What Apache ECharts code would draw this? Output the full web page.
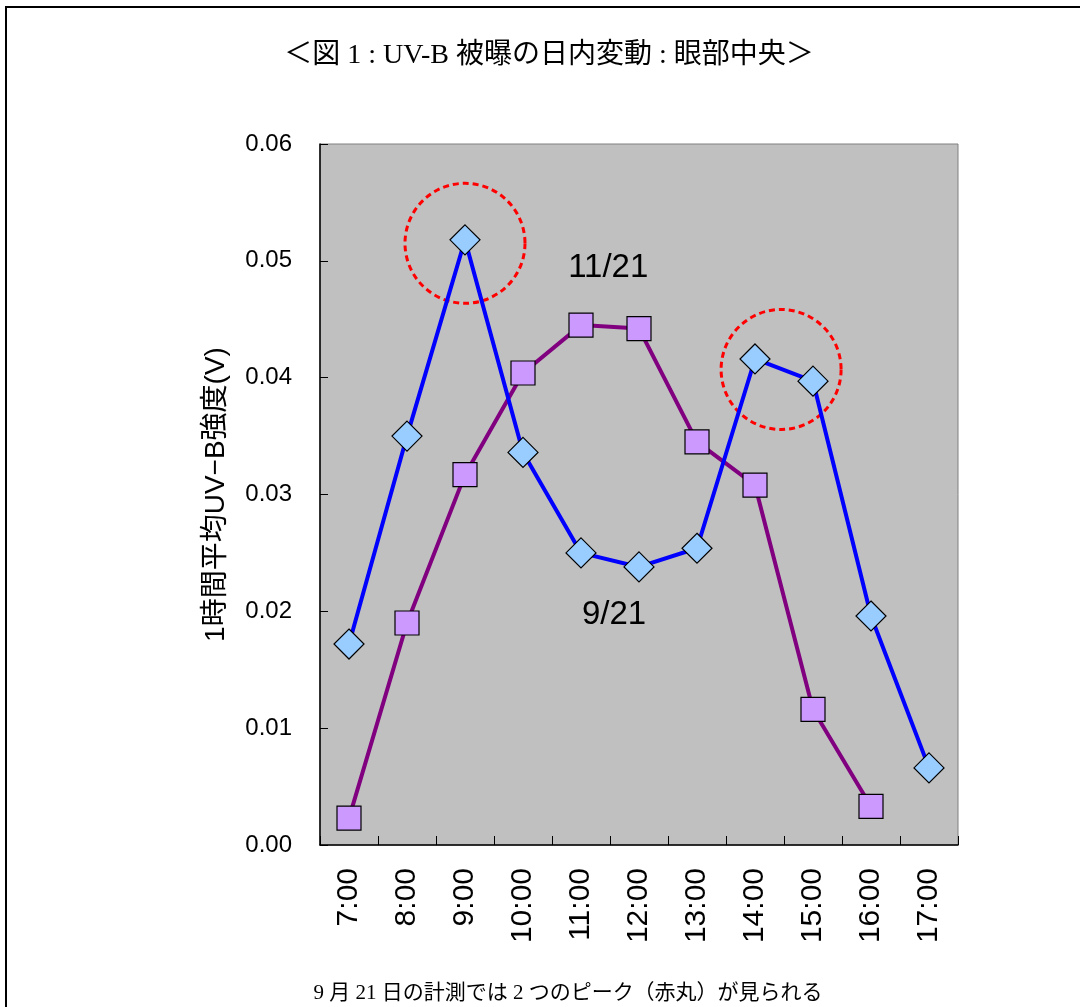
<!DOCTYPE html>
<html>
<head>
<meta charset="utf-8">
<script src="https://cdn.jsdelivr.net/npm/echarts@6/dist/echarts.min.js"></script>
<style>
  html, body { margin: 0; padding: 0; background: #fff; }
  #main { width: 1080px; height: 1007px; }
</style>
</head>
<body>
<div id="main"></div>
<script>
var hours = ['7:00', '8:00', '9:00', '10:00', '11:00', '12:00', '13:00', '14:00', '15:00', '16:00', '17:00'];
// 9/21 (blue diamonds)
var sep21 = [0.0172, 0.0350, 0.0518, 0.0336, 0.0250, 0.0238, 0.0254, 0.0416, 0.0397, 0.0196, 0.0066];
// 11/21 (purple squares)
var nov21 = [0.0023, 0.0190, 0.0317, 0.0404, 0.0445, 0.0442, 0.0345, 0.0308, 0.0116, 0.0033, null];

// red circles: [category index, offset toward next category, value]
var peakCircles = [[2, 0, 0.0515], [7, 0.45, 0.0407]];
// in-plot labels: [category index, offset, value, text]
var seriesTags = [[4, 0.47, 0.0494, '11/21'], [4, 0.57, 0.0197, '9/21']];

var dom = document.getElementById('main');
var myChart = echarts.init(dom, null, {renderer: 'canvas'});

var sansFont = "'Liberation Sans', 'Noto Sans CJK JP', sans-serif";
var serifFont = "'Liberation Serif', 'Noto Sans CJK JP', serif";

function pointAt(api, idx, frac, val) {
    var a = api.coord([idx, val]);
    var b = api.coord([idx + 1, val]);
    return [a[0] + (b[0] - a[0]) * frac, a[1]];
}

var option = {
    backgroundColor: '#fff',
    animation: false,
    graphic: [
        {
            type: 'rect',
            shape: {x: 6, y: 7, width: 1200, height: 1200},
            style: {fill: 'none', stroke: '#000', lineWidth: 2}
        },
        {
            type: 'text',
            x: 549, y: 56,
            style: {
                text: '＜図 1 : UV-B 被曝の日内変動 : 眼部中央＞',
                font: '28px ' + serifFont,
                fill: '#000',
                align: 'center',
                verticalAlign: 'middle'
            }
        },
        {
            type: 'text',
            x: 568, y: 993,
            style: {
                text: '9 月 21 日の計測では 2 つのピーク（赤丸）が見られる',
                font: '21px ' + serifFont,
                fill: '#000',
                align: 'center',
                verticalAlign: 'middle'
            }
        }
    ],
    grid: {
        left: 320,
        right: 122,
        top: 144,
        bottom: 162,
        show: true,
        backgroundColor: '#C0C0C0',
        borderColor: '#808080',
        borderWidth: 1
    },
    xAxis: {
        type: 'category',
        data: hours,
        boundaryGap: true,
        axisLine: {lineStyle: {color: '#000', width: 1.5}},
        axisTick: {show: true, inside: true, length: 9, lineStyle: {color: '#000', width: 1}},
        axisLabel: {
            rotate: 90,
            margin: 23,
            fontSize: 30,
            color: '#000',
            fontFamily: sansFont,
            interval: 0
        },
        splitLine: {show: false}
    },
    yAxis: {
        type: 'value',
        min: 0,
        max: 0.06,
        interval: 0.01,
        name: '1時間平均UV−B強度(V)',
        nameLocation: 'middle',
        nameRotate: 90,
        nameGap: 90,
        nameTextStyle: {fontSize: 28, color: '#000', fontFamily: sansFont},
        axisLine: {show: true, lineStyle: {color: '#000', width: 1.5}},
        axisTick: {show: true, inside: true, length: 8, lineStyle: {color: '#000', width: 1}},
        axisLabel: {
            margin: 28,
            fontSize: 24,
            color: '#000',
            fontFamily: sansFont,
            formatter: function (v) { return v.toFixed(2); }
        },
        splitLine: {show: false}
    },
    series: [
        {
            type: 'custom',
            name: 'peaks',
            data: peakCircles,
            encode: {x: 0, y: 2},
            z: 1,
            renderItem: function (params, api) {
                var p = pointAt(api, api.value(0), api.value(1), api.value(2));
                return {
                    type: 'circle',
                    shape: {cx: p[0], cy: p[1], r: 60},
                    style: {fill: 'none', stroke: '#FF0000', lineWidth: 3, lineDash: [6, 4]}
                };
            }
        },
        {
            type: 'custom',
            name: 'tags',
            data: seriesTags.map(function (t) { return [t[0], t[1], t[2]]; }),
            encode: {x: 0, y: 2},
            z: 5,
            renderItem: function (params, api) {
                var p = pointAt(api, api.value(0), api.value(1), api.value(2));
                return {
                    type: 'text',
                    x: p[0], y: p[1],
                    style: {
                        text: seriesTags[params.dataIndex][3],
                        font: '33px ' + sansFont,
                        fill: '#000',
                        align: 'center',
                        verticalAlign: 'middle'
                    }
                };
            }
        },
        {
            type: 'line',
            name: '11/21',
            data: nov21,
            symbol: 'rect',
            symbolSize: 24,
            lineStyle: {color: '#800080', width: 4},
            itemStyle: {color: '#CC99FF', borderColor: '#000', borderWidth: 1.2},
            z: 3
        },
        {
            type: 'line',
            name: '9/21',
            data: sep21,
            symbol: 'diamond',
            symbolSize: 30,
            lineStyle: {color: '#0000FF', width: 4},
            itemStyle: {color: '#99CCFF', borderColor: '#000', borderWidth: 1.2},
            z: 4
        }
    ]
};

if (option && typeof option === 'object') {
    myChart.setOption(option);
}
</script>
</body>
</html>
